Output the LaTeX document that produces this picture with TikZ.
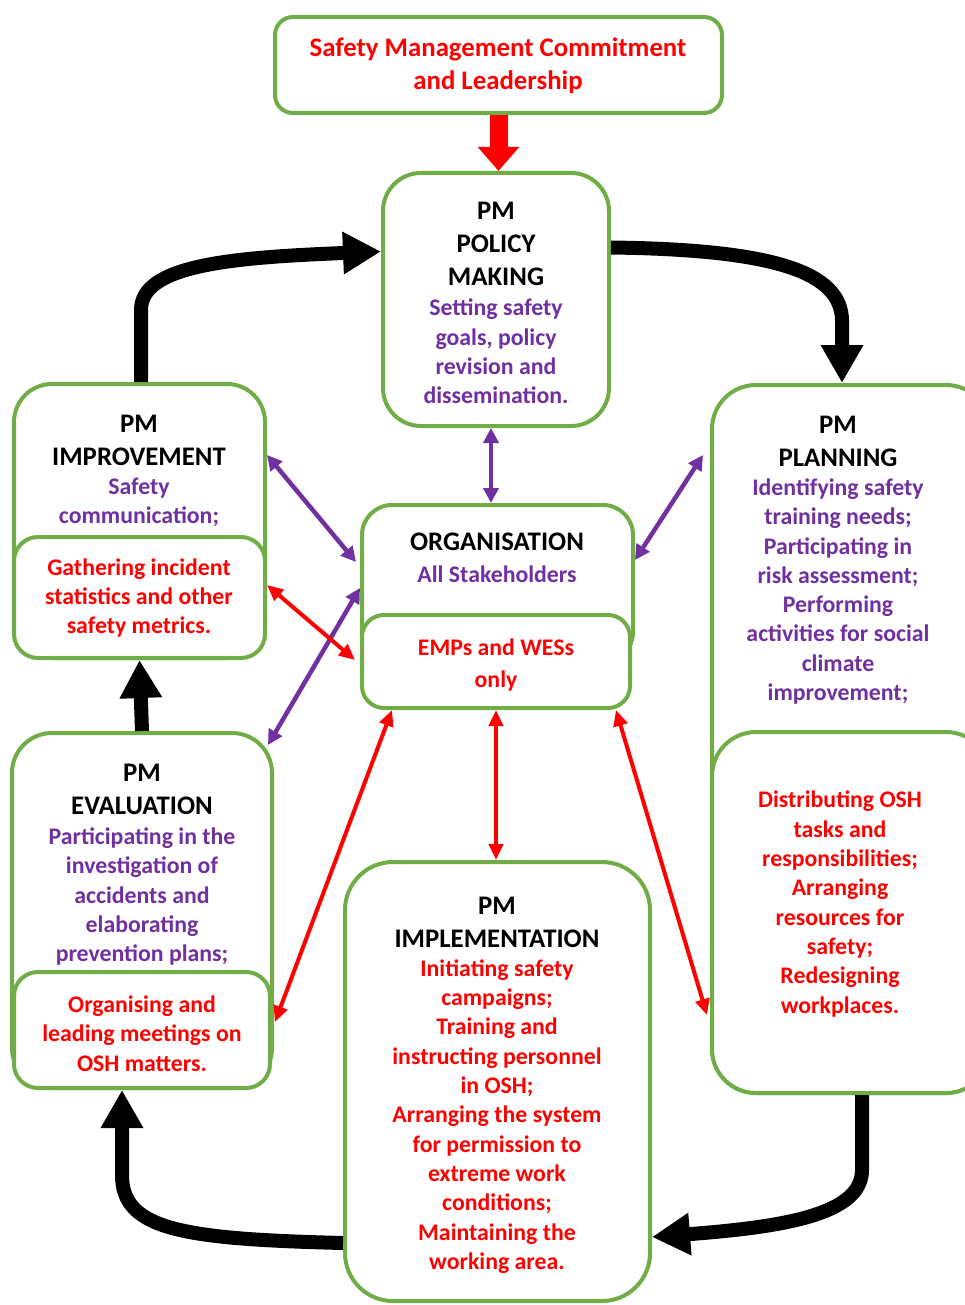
\documentclass[tikz,border=0pt]{standalone}
\usepackage{fontspec}
\setmainfont{Carlito}
\usetikzlibrary{arrows.meta}

\begin{document}
\begin{tikzpicture}[x=1pt,y=-1pt,
  panel/.style={draw=panelGreen,line width=4pt,fill=white,rounded corners=#1,inner sep=0pt},
  panel/.default=38pt,
  head/.style={font=\bfseries\fontsize{26.8}{33}\selectfont,align=center,inner sep=0pt},
  body/.style={font=\bfseries\fontsize{23.8}{29.3}\selectfont,align=center,inner sep=0pt},
  cyclearrow/.style={line width=14pt,>={Triangle[width=40pt,length=38pt]},->},
  linkpurple/.style={stakePurple,line width=4.5pt,>={Triangle[width=15pt,length=15pt]},<->},
  linkred/.style={mgmtRed,line width=4pt,>={Triangle[width=14pt,length=16pt]},<->}]
\definecolor{panelGreen}{HTML}{70AD47}
\definecolor{stakePurple}{HTML}{7030A0}
\definecolor{mgmtRed}{HTML}{FF0000}
\useasboundingbox (0,0) rectangle (964,1305);
% boxes
\node[panel=18pt,minimum width=447pt,minimum height=96pt] (lead) at (498.5,65) {};
\node[panel,minimum width=226pt,minimum height=253pt] (policy) at (496,299.5) {};
\node[panel,minimum width=251pt,minimum height=274pt] (impr) at (139.5,521) {};
\node[panel=24pt,minimum width=251pt,minimum height=121pt] (imprsub) at (139.5,597.5) {};
\node[panel=30pt,minimum width=271pt,minimum height=157pt] (org) at (497.5,583.5) {};
\node[panel=22pt,minimum width=268pt,minimum height=93pt] (orgsub) at (496,661.5) {};
\node[panel=44pt,minimum width=278pt,minimum height=708pt] (plan) at (851,739) {};
\node[panel=44pt,minimum width=278pt,minimum height=361pt] (plansub) at (851,912.5) {};
\node[panel=40pt,minimum width=260pt,minimum height=355pt] (eval) at (142,910.5) {};
\node[panel=24pt,minimum width=256pt,minimum height=116pt] (evalsub) at (142,1030) {};
\node[panel=48pt,minimum width=305pt,minimum height=439pt] (impl) at (497.5,1081.5) {};
% texts
\node[head,text=mgmtRed] (leadtext) at (498,66) {Safety Management Commitment\\and Leadership};
\node[head] (policyhead) at (496,243.5) {PM\\POLICY\\MAKING};
\node[body,text=stakePurple] (policybody) at (496,351.5) {Setting safety\\goals, policy\\revision and\\dissemination.};
\node[head] (imprhead) at (139,440.5) {PM\\IMPROVEMENT};
\node[body,text=stakePurple] (imprbody) at (139,502.5) {Safety\\communication;};
\node[body,text=mgmtRed] (imprsubtext) at (139,598) {Gathering incident\\statistics and other\\safety metrics.};
\node[head] (orghead) at (497,542) {ORGANISATION};
\node[body,text=stakePurple] (orgbody) at (497,574) {All Stakeholders};
\node[body,text=mgmtRed,font=\bfseries\fontsize{23.8}{32}\selectfont] (orgsubtext) at (496,665) {EMPs and WESs\\only};
\node[head] (planhead) at (838,441.5) {PM\\PLANNING};
\node[body,text=stakePurple] (planbody) at (838,591.5) {Identifying safety\\training needs;\\Participating in\\risk assessment;\\Performing\\activities for social\\climate\\improvement;};
\node[body,text=mgmtRed] (plansubtext) at (840,904) {Distributing OSH\\tasks and\\responsibilities;\\Arranging\\resources for\\safety;\\Redesigning\\workplaces.};
\node[head] (evalhead) at (142,789.5) {PM\\EVALUATION};
\node[body,text=stakePurple] (evalbody) at (142,896.5) {Participating in the\\investigation of\\accidents and\\elaborating\\prevention plans;};
\node[body,text=mgmtRed] (evalsubtext) at (142,1033.5) {Organising and\\leading meetings on\\OSH matters.};
\node[head] (implhead) at (497,922.5) {PM\\IMPLEMENTATION};
\node[body,text=mgmtRed] (implbody) at (497,1116.5) {Initiating safety\\campaigns;\\Training and\\instructing personnel\\in OSH;\\Arranging the system\\for permission to\\extreme work\\conditions;\\Maintaining the\\working area.};
% commitment arrow
\draw[mgmtRed,line width=18pt,-{Triangle[width=40pt,length=24pt]}] (lead.south) -- (lead.south |- policy.north);
% PM cycle
\draw[cyclearrow] ([xshift=1.5pt]impr.north) -- ++(0,-72) .. controls +(0,-45) and +(-150,6) .. ([yshift=48pt]policy.west);
\draw[cyclearrow] ([yshift=52pt]policy.east) .. controls +(160,2) and +(0,-50) .. ([xshift=-9pt,yshift=62pt]plan.north) -- ([xshift=-9pt]plan.north);
\draw[cyclearrow] ([xshift=11pt]plansub.south) -- ++(0,75) .. controls +(0,45) and +(130,-10) .. ([yshift=-155.5pt]impl.east);
\draw[cyclearrow] ([yshift=-161.5pt]impl.west) .. controls +(-160,-4) and +(0,55) .. ([xshift=-20pt,yshift=-85pt]eval.south) -- ([xshift=-20pt]eval.south);
\draw[cyclearrow] (eval.north) -- (impr.south);
% links to organisation
\draw[linkpurple] ([xshift=-5pt]policy.south) -- ([xshift=-5pt]policy.south |- org.north);
\draw[linkpurple] ([yshift=66pt]impr.east) -- ([xshift=-4pt,yshift=21.5pt]org.west);
\draw[linkpurple] ([xshift=-7pt,yshift=284pt]plan.west) -- ([yshift=23.5pt]org.east);
\draw[linkpurple] ([yshift=-4.5pt]org.west) -- ([xshift=-6pt,yshift=165.5pt]eval.east);
\draw[linkred] ([yshift=12.5pt]imprsub.east) -- ([xshift=-5pt,yshift=1.5pt]orgsub.west);
\draw[linkred] ([xshift=-104pt]orgsub.south) -- ([xshift=3pt,yshift=8pt]evalsub.east);
\draw[linkred] (orgsub.south) -- (orgsub.south |- impl.north);
\draw[linkred] ([xshift=120pt]orgsub.south) -- ([xshift=-3pt,yshift=-102.5pt]plansub.west);
\end{tikzpicture}
\end{document}
